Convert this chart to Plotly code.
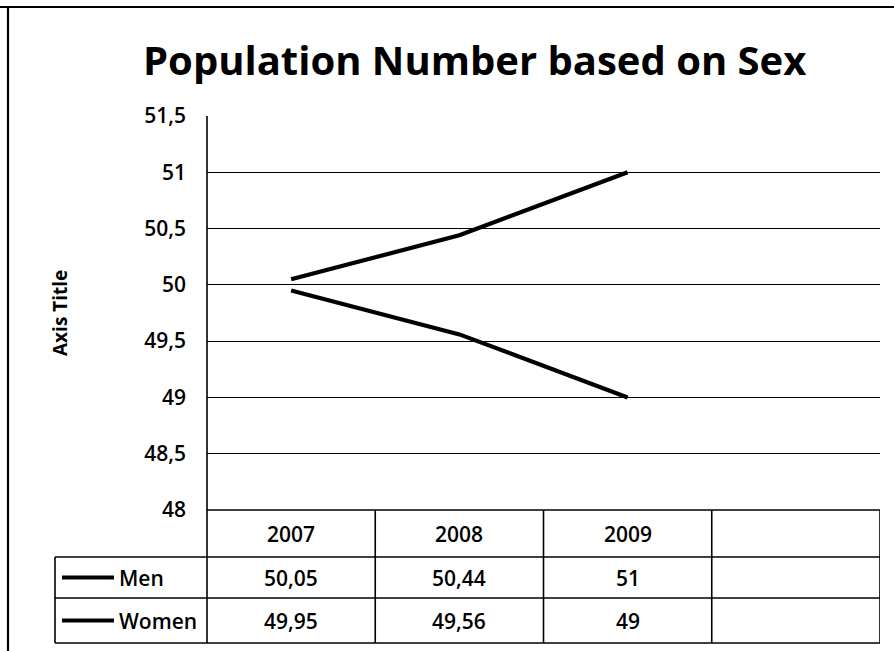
import plotly.graph_objects as go

# Data
years = ["2007", "2008", "2009"]
men = [50.05, 50.44, 51.0]
women = [49.95, 49.56, 49.0]
series_names = ["Men", "Women"]
series_values = [men, women]
y_ticks = [48, 48.5, 49, 49.5, 50, 50.5, 51, 51.5]

W, H = 894, 651
FONT = "Open Sans"


def px(x):
    return x / W


def py(y):
    return 1 - y / H


def fmt(v):
    return f"{v:g}".replace(".", ",")


n_slots = len(years) + 1  # one empty column on the right
xs = list(range(len(years)))

fig = go.Figure()
for name, vals in zip(series_names, series_values):
    fig.add_trace(go.Scatter(x=xs, y=vals, mode="lines", name=name,
                             line=dict(color="black", width=4.2),
                             showlegend=False))

plot_left, plot_right = 207, 880
plot_top, plot_bottom = 116, 510
row_lines = [510, 557, 598, 643]
legend_left = 55

shapes = []
line_style = dict(color="black", width=1.6)

# outer chart frame (top and left edges)
shapes.append(dict(type="line", xref="paper", yref="paper",
                   x0=px(0), x1=px(W), y0=py(7), y1=py(7),
                   line=dict(color="black", width=2.2)))
shapes.append(dict(type="line", xref="paper", yref="paper",
                   x0=px(8), x1=px(8), y0=py(7), y1=py(H),
                   line=dict(color="black", width=2.2)))

# vertical axis line running down through the data table
shapes.append(dict(type="line", xref="paper", yref="paper",
                   x0=px(plot_left), x1=px(plot_left),
                   y0=py(plot_top), y1=py(row_lines[-1]), line=line_style))

# data table: horizontal rules
shapes.append(dict(type="line", xref="paper", yref="paper",
                   x0=px(plot_left), x1=px(plot_right),
                   y0=py(row_lines[0]), y1=py(row_lines[0]), line=line_style))
for yl in row_lines[1:]:
    shapes.append(dict(type="line", xref="paper", yref="paper",
                       x0=px(legend_left), x1=px(plot_right),
                       y0=py(yl), y1=py(yl), line=line_style))
# legend column left edge
shapes.append(dict(type="line", xref="paper", yref="paper",
                   x0=px(legend_left), x1=px(legend_left),
                   y0=py(row_lines[1]), y1=py(row_lines[-1]), line=line_style))
# column dividers between category slots and right edge
for k in range(n_slots):
    shapes.append(dict(type="line", xref="x", yref="paper",
                       x0=k + 0.5, x1=k + 0.5,
                       y0=py(row_lines[0]), y1=py(row_lines[-1]), line=line_style))

annotations = []
# title
annotations.append(dict(text="<b>Population Number based on Sex</b>",
                        x=px(474), y=py(59), xref="paper", yref="paper",
                        showarrow=False, xanchor="center", yanchor="middle",
                        font=dict(family=FONT, size=40, color="black")))
# y axis title
annotations.append(dict(text="<b>Axis Title</b>", x=px(60), y=py(313),
                        xref="paper", yref="paper", textangle=-90,
                        showarrow=False, xanchor="center", yanchor="middle",
                        font=dict(family=FONT, size=19, color="black")))

cell_font = dict(family=FONT, size=21, color="black", weight=600)
# header row with category labels
for i, yr in enumerate(years):
    annotations.append(dict(text=yr, x=i, xref="x", yref="paper",
                            y=py((row_lines[0] + row_lines[1]) / 2),
                            showarrow=False, xanchor="center", yanchor="middle",
                            font=cell_font))
# series rows: legend key, name and values
for r, (name, vals) in enumerate(zip(series_names, series_values)):
    yc = (row_lines[r + 1] + row_lines[r + 2]) / 2
    shapes.append(dict(type="line", xref="paper", yref="paper",
                       x0=px(62), x1=px(114), y0=py(yc), y1=py(yc),
                       line=dict(color="black", width=4.2)))
    annotations.append(dict(text=name, x=px(117), y=py(yc), xref="paper",
                            yref="paper", showarrow=False, xanchor="left",
                            yanchor="middle", font=cell_font))
    for i, v in enumerate(vals):
        annotations.append(dict(text=fmt(v), x=i, xref="x", yref="paper",
                                y=py(yc), showarrow=False, xanchor="center",
                                yanchor="middle", font=cell_font))

fig.update_layout(
    width=W, height=H,
    margin=dict(l=0, r=0, t=0, b=0, autoexpand=False),
    paper_bgcolor="white", plot_bgcolor="white",
    separators=", ",
    shapes=shapes, annotations=annotations,
    xaxis=dict(domain=[px(plot_left), px(plot_right)],
               range=[-0.5, n_slots - 0.5], showgrid=False, zeroline=False,
               showticklabels=False, showline=False, fixedrange=True,
               automargin=False),
    yaxis=dict(domain=[py(plot_bottom), py(plot_top)],
               range=[48, 51.5], tickvals=y_ticks,
               ticktext=[fmt(t) for t in y_ticks],
               showgrid=True, gridcolor="black", gridwidth=1.4,
               zeroline=False, showline=False, ticks="",
               ticklabelstandoff=20, automargin=False,
               tickfont=dict(family=FONT, size=21, color="black", weight=600)),
)

fig.write_html("out.html")
